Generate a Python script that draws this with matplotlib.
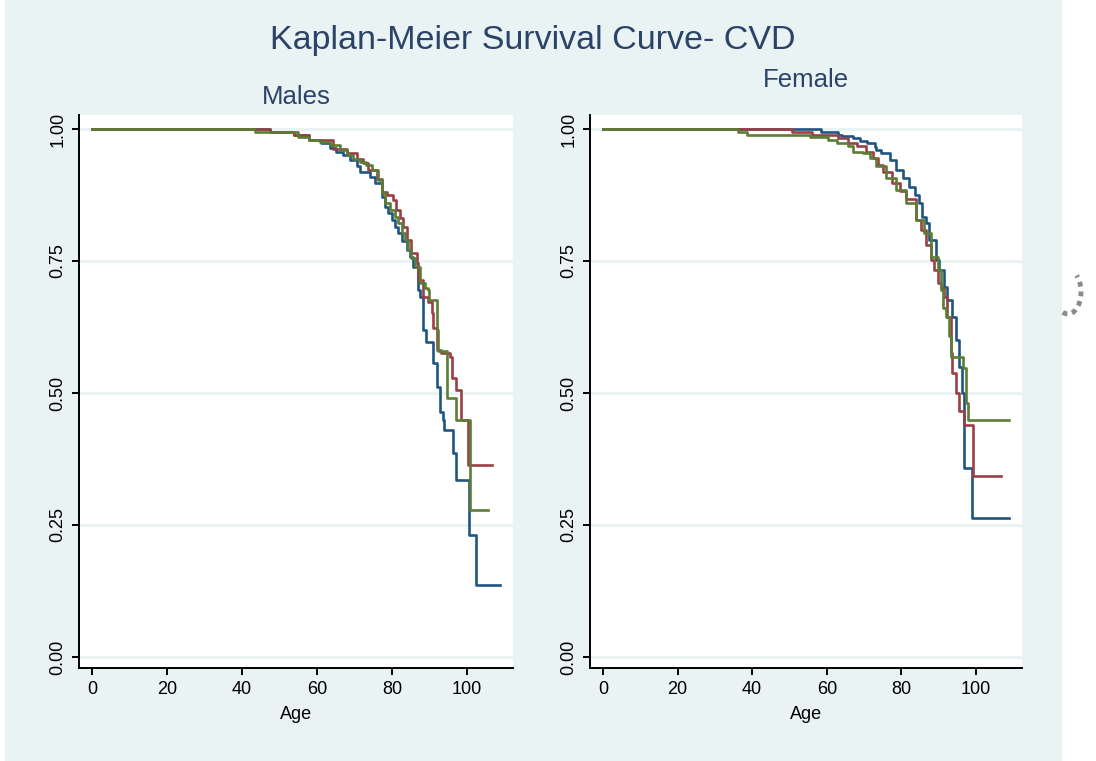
import matplotlib
matplotlib.use("Agg")
import matplotlib.pyplot as plt
from matplotlib.patches import Rectangle, Arc

# Kaplan-Meier step data (age, survival)
# Males
male_g1_age = [0, 47.5, 54, 58, 61, 63.5, 65.2, 67, 68.8, 70.6, 71.5, 74.1, 75.5, 77.3, 78.1, 79, 79.9,
               80.8, 81.7, 82.6, 83.9, 84.8, 85.7, 87, 87.6, 88.3, 89.2, 91, 92, 92.8, 93.7, 94, 96.3,
               97.2, 100.5, 102.5, 108.8]
male_g1_surv = [1.0, 0.994, 0.989, 0.979, 0.973, 0.964, 0.957, 0.951, 0.941, 0.929, 0.919, 0.91, 0.897,
                0.872, 0.853, 0.841, 0.828, 0.815, 0.803, 0.787, 0.771, 0.758, 0.739, 0.695, 0.682, 0.619,
                0.597, 0.557, 0.511, 0.464, 0.449, 0.43, 0.386, 0.335, 0.231, 0.136, 0.136]

male_g2_age = [0, 47.5, 54, 58, 64.3, 67.9, 70.6, 72.4, 73.7, 75.9, 77.3, 78.6, 80.4, 81.2, 82.1, 83,
               83.9, 85.2, 86.6, 87, 88.3, 89.6, 90.6, 91, 92, 93.2, 95.5, 96, 97.2, 98.4, 100.2, 106.6]
male_g2_surv = [1.0, 0.994, 0.989, 0.979, 0.963, 0.954, 0.944, 0.935, 0.922, 0.906, 0.881, 0.875, 0.865,
                0.846, 0.831, 0.815, 0.79, 0.765, 0.746, 0.714, 0.682, 0.672, 0.651, 0.623, 0.581, 0.575,
                0.568, 0.528, 0.505, 0.449, 0.364, 0.364]

male_g3_age = [0, 43.5, 55, 58, 60.8, 63.5, 66.1, 67.9, 69.7, 71.5, 73.2, 74.6, 76.3, 77.3, 78.1, 79.5,
               80.8, 81.7, 82.6, 83.5, 84.3, 85.2, 86.1, 87.5, 88.8, 89.6, 90, 92, 92.4, 94.8, 97.2,
               100.8, 105.6]
male_g3_surv = [1.0, 0.994, 0.985, 0.979, 0.975, 0.97, 0.96, 0.951, 0.944, 0.938, 0.932, 0.922, 0.903,
                0.879, 0.86, 0.846, 0.834, 0.822, 0.803, 0.79, 0.771, 0.756, 0.739, 0.708, 0.699, 0.695,
                0.676, 0.62, 0.58, 0.49, 0.449, 0.278, 0.278]

# Females
fem_g1_age = [0, 58.5, 63, 64, 67, 68.8, 70.9, 72.8, 73.2, 74.6, 76.8, 78.6, 80.3, 82.1, 83.5, 84.8,
              85.6, 86.6, 87.5, 89.2, 90.1, 91.5, 92.3, 93.6, 94.6, 95.5, 96.3, 96.8, 98.9, 108.8]
fem_g1_surv = [1.0, 0.994, 0.989, 0.987, 0.982, 0.978, 0.973, 0.965, 0.96, 0.955, 0.941, 0.922, 0.907,
               0.891, 0.875, 0.86, 0.834, 0.822, 0.79, 0.752, 0.733, 0.701, 0.676, 0.644, 0.6, 0.55, 0.5,
               0.358, 0.263, 0.263]

fem_g2_age = [0, 50.6, 55.9, 63, 65.6, 68, 70.6, 72.3, 73.6, 75, 77.6, 79.5, 81.2, 83.9, 85.2, 86.6,
              87.9, 88.8, 89.7, 90.6, 91.5, 92.3, 93.2, 93.6, 94.6, 95.5, 96.8, 99.2, 106.6]
fem_g2_surv = [1.0, 0.994, 0.989, 0.982, 0.973, 0.967, 0.957, 0.945, 0.932, 0.919, 0.897, 0.882, 0.867,
               0.828, 0.809, 0.78, 0.752, 0.733, 0.708, 0.699, 0.682, 0.644, 0.575, 0.538, 0.5, 0.465,
               0.44, 0.343, 0.343]

fem_g3_age = [0, 36.3, 38.6, 55.5, 60.3, 62.6, 65.6, 67, 69.6, 71.5, 73.2, 75.9, 78.6, 81.2, 83.9, 86.1,
              87.9, 89.7, 90.6, 91, 91.9, 92.8, 93.2, 96.4, 97.2, 97.7, 108.8]
fem_g3_surv = [1.0, 0.995, 0.989, 0.984, 0.979, 0.974, 0.967, 0.956, 0.954, 0.945, 0.929, 0.907, 0.884,
               0.86, 0.828, 0.803, 0.758, 0.733, 0.695, 0.661, 0.644, 0.607, 0.569, 0.547, 0.481, 0.449,
               0.449]

x_ticks = [0, 20, 40, 60, 80, 100]
y_ticks = [0.0, 0.25, 0.5, 0.75, 1.0]
y_tick_labels = ["0.00", "0.25", "0.50", "0.75", "1.00"]

# Stata s2color palette
colors = ["#1f5580", "#9a3f45", "#5c7d35"]
bg = "#eaf3f3"
title_color = "#2b4269"

plt.rcParams['font.family'] = ['Liberation Sans', 'DejaVu Sans']

fig = plt.figure(figsize=(10.96, 7.61), dpi=100, facecolor="white")

# graph region background (leaves white strips at left/right edge)
fig.patches.append(Rectangle((5 / 1096, 0), (1062 - 5) / 1096, 1, transform=fig.transFigure,
                             facecolor=bg, edgecolor="none", zorder=-10))

# small scanned artifact on the right side
fig.patches.append(Arc((1068 / 1096, 1 - 292 / 761), 26 / 1096, 44 / 761, theta1=-100, theta2=70,
                       transform=fig.transFigure, color="#8a8a8a", lw=3.5, ls=(0, (1, 1)), zorder=-5))

fig.text(533 / 1096, 1 - 40 / 761, "Kaplan-Meier Survival Curve- CVD", ha="center", va="center",
         fontsize=24.5, color=title_color)

panels = [
    ("Males", [79, 513], 97, [(male_g1_age, male_g1_surv), (male_g2_age, male_g2_surv),
                              (male_g3_age, male_g3_surv)]),
    ("Female", [590, 1022], 80, [(fem_g1_age, fem_g1_surv), (fem_g2_age, fem_g2_surv),
                                (fem_g3_age, fem_g3_surv)]),
]

for name, (x0, x1), title_y, series in panels:
    ax = fig.add_axes([x0 / 1096, 1 - 668 / 761, (x1 - x0) / 1096, (668 - 115) / 761])
    ax.set_facecolor("white")
    for yv in y_ticks:
        ax.axhline(yv, color=bg, lw=2.2, zorder=1)
    for (ages, surv), c in zip(series, colors):
        ax.step(ages, surv, where="post", color=c, lw=1.9, zorder=3)

    ax.set_xlim(-3.45, 112.3)
    ax.set_ylim(-0.021, 1.0265)
    ax.set_xticks(x_ticks)
    ax.set_yticks(y_ticks)
    ax.set_yticklabels(y_tick_labels, rotation=90, va="center")
    ax.tick_params(axis="both", length=5, width=1.4, labelsize=13, color="black", pad=4)
    for s in ["top", "right"]:
        ax.spines[s].set_visible(False)
    for s in ["left", "bottom"]:
        ax.spines[s].set_linewidth(1.4)
    ax.set_xlabel("Age", fontsize=13, labelpad=6)

    xc = (x0 + x1) / 2 / 1096
    fig.text(xc, 1 - title_y / 761, name, ha="center", va="center", fontsize=18.5, color=title_color)

fig.savefig("out.png", dpi=100, facecolor=fig.get_facecolor())
